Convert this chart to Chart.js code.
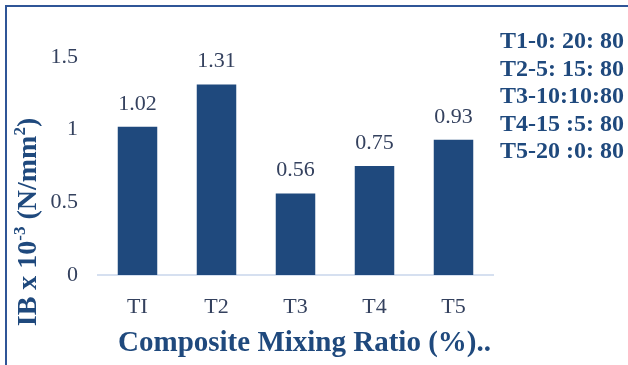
<!DOCTYPE html>
<html lang="en">
<head>
  <meta charset="UTF-8" />
  <title>IB vs Composite Mixing Ratio</title>
  <script src="https://cdn.jsdelivr.net/npm/chart.js"></script>
  <style>
    html, body {
      margin: 0;
      padding: 0;
      background: #ffffff;
      overflow: hidden;
    }
    .wrap {
      position: relative;
      width: 628px;
      height: 365px;
    }
    .frame {
      position: absolute;
      left: 5px;
      top: 5px;
      width: 700px;
      height: 400px;
      border-left: 2px solid #2f5597;
      border-top: 2px solid #2f5597;
      pointer-events: none;
    }
  </style>
</head>
<body>
  <div class="wrap">
    <canvas id="chart" width="628" height="365"></canvas>
    <div class="frame"></div>
  </div>

  <script>
    // === Data ===
    const categories = ["TI", "T2", "T3", "T4", "T5"];
    const ibValues = [1.02, 1.31, 0.56, 0.75, 0.93];
    const yTicks = [0, 0.5, 1, 1.5];
    const legendLines = [
      "T1-0: 20: 80",
      "T2-5: 15: 80",
      "T3-10:10:80",
      "T4-15 :5: 80",
      "T5-20 :0: 80"
    ];
    const xTitle = "Composite Mixing Ratio (%)..";

    const barColor = "#1f497d";
    const textBlue = "#1f497d";
    const labelColor = "#34415e";
    const serif = "'Liberation Serif', 'Times New Roman', serif";

    // === Value labels above bars ===
    const valueLabels = {
      id: "valueLabels",
      afterDatasetsDraw(chart) {
        const ctx = chart.ctx;
        const meta = chart.getDatasetMeta(0);
        ctx.save();
        ctx.font = "22px " + serif;
        ctx.fillStyle = labelColor;
        ctx.textAlign = "center";
        ctx.textBaseline = "middle";
        meta.data.forEach((bar, i) => {
          ctx.fillText(ibValues[i].toFixed(2), bar.x, bar.y - 23);
        });
        ctx.restore();
      }
    };

    // === Axis titles (y with superscripts) + side legend ===
    const extras = {
      id: "extras",
      afterDraw(chart) {
        const ctx = chart.ctx;
        const area = chart.chartArea;

        // x title
        ctx.save();
        ctx.font = "bold 29px " + serif;
        ctx.fillStyle = textBlue;
        ctx.textAlign = "center";
        ctx.textBaseline = "middle";
        ctx.fillText(xTitle, (area.left + area.right) / 2 + 9, 344);
        ctx.restore();

        // y title
        const parts = [
          ["IB x 10", false],
          ["-3", true],
          [" (N/mm", false],
          ["2", true],
          [")", false]
        ];
        const big = "bold 28px " + serif;
        const small = "bold 17px " + serif;
        ctx.save();
        let total = 0;
        parts.forEach(p => {
          ctx.font = p[1] ? small : big;
          total += ctx.measureText(p[0]).width;
        });
        ctx.translate(29, 222);
        ctx.rotate(-Math.PI / 2);
        ctx.fillStyle = textBlue;
        ctx.textBaseline = "middle";
        let x = -total / 2;
        parts.forEach(p => {
          ctx.font = p[1] ? small : big;
          ctx.fillText(p[0], x, p[1] ? -8 : 0);
          x += ctx.measureText(p[0]).width;
        });
        ctx.restore();

        // legend text block
        ctx.save();
        ctx.font = "bold 24px " + serif;
        ctx.fillStyle = textBlue;
        ctx.textAlign = "left";
        ctx.textBaseline = "middle";
        legendLines.forEach((line, i) => {
          ctx.fillText(line, 500, 42 + i * 27.5);
        });
        ctx.restore();
      }
    };

    const ctx = document.getElementById("chart").getContext("2d");
    new Chart(ctx, {
      type: "bar",
      data: {
        labels: categories,
        datasets: [{
          data: ibValues,
          backgroundColor: barColor,
          borderWidth: 0,
          categoryPercentage: 1,
          barPercentage: 0.5
        }]
      },
      options: {
        responsive: false,
        animation: false,
        layout: {
          padding: { left: 0, right: 135, top: 57, bottom: 0 }
        },
        plugins: {
          legend: { display: false },
          tooltip: { enabled: false }
        },
        scales: {
          x: {
            grid: { display: false, drawTicks: false },
            border: { display: true, color: "#d6e0f0", width: 2 },
            ticks: {
              color: labelColor,
              font: { family: serif, size: 22 },
              padding: 19
            },
            afterFit(scale) { scale.height = 90; }
          },
          y: {
            min: 0,
            max: 1.5,
            grid: { display: false, drawTicks: false },
            border: { display: false },
            afterBuildTicks(scale) {
              scale.ticks = yTicks.map(v => ({ value: v }));
            },
            ticks: {
              color: labelColor,
              font: { family: serif, size: 22 },
              padding: 20,
              callback: v => String(v)
            },
            afterFit(scale) { scale.width = 98; }
          }
        }
      },
      plugins: [valueLabels, extras]
    });
  </script>
</body>
</html>
